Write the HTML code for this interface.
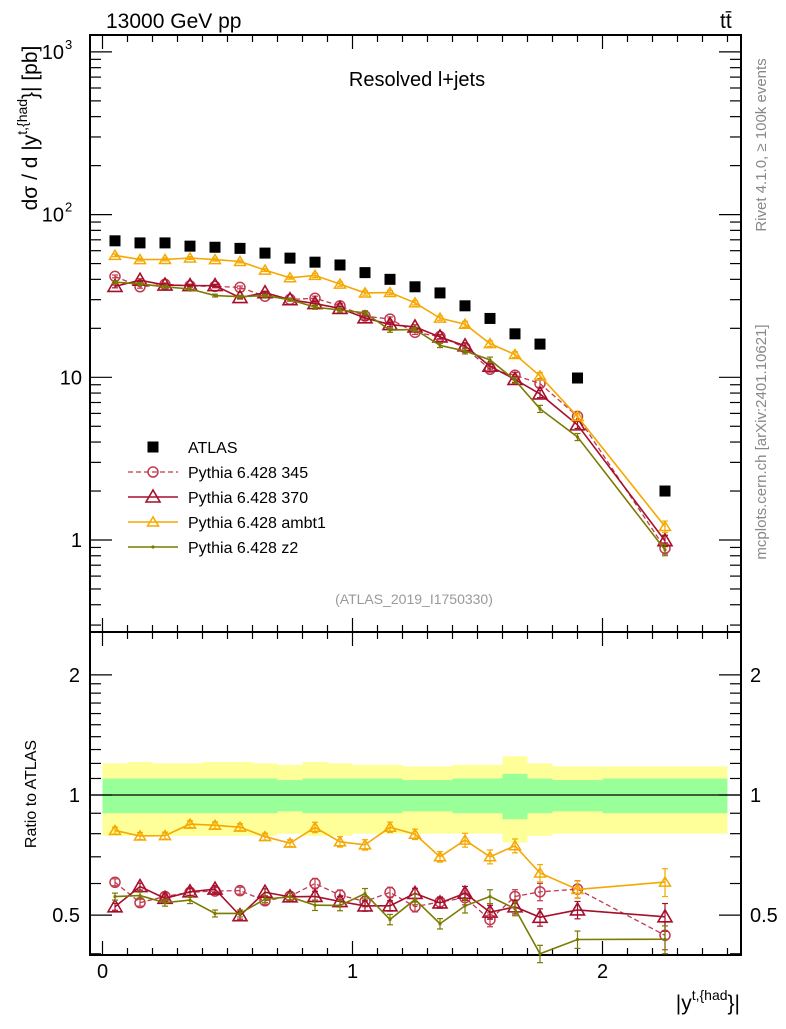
<!DOCTYPE html>
<html><head><meta charset="utf-8"><style>
body{margin:0;background:#fff;}
svg text{font-family:"Liberation Sans",sans-serif;}
</style></head><body>
<svg id="chart" width="786" height="1024" xmlns="http://www.w3.org/2000/svg">
<text x="106" y="28" font-size="21">13000 GeV pp</text>
<text x="720" y="28" font-size="21">tt̄</text>
<text x="417" y="86" font-size="20" text-anchor="middle">Resolved l+jets</text>
<text x="414" y="604" font-size="14" fill="#999" text-anchor="middle">(ATLAS_2019_I1750330)</text>
<text transform="translate(766,145) rotate(-90)" font-size="15" fill="#888" text-anchor="middle">Rivet 4.1.0, ≥ 100k events</text>
<text transform="translate(766,442) rotate(-90)" font-size="15" fill="#888" text-anchor="middle">mcplots.cern.ch [arXiv:2401.10621]</text>
<text transform="translate(37,128) rotate(-90)" font-size="21" text-anchor="middle">dσ / d |y<tspan dy="-10" font-size="14">t,{had</tspan><tspan dy="10">}| [pb]</tspan></text>
<text transform="translate(36,794) rotate(-90)" font-size="16" text-anchor="middle">Ratio to ATLAS</text>
<text x="740" y="1010" font-size="21" text-anchor="end">|y<tspan dy="-10" font-size="14">t,{had</tspan><tspan dy="10">}|</tspan></text>
<g id="g"></g>
</svg>
<script>
const xc=[0.05,0.15,0.25,0.35,0.45,0.55,0.65,0.75,0.85,0.95,1.05,1.15,1.25,1.35,1.45,1.55,1.65,1.75,1.9,2.25];
const xlo=[0,0.1,0.2,0.3,0.4,0.5,0.6,0.7,0.8,0.9,1.0,1.1,1.2,1.3,1.4,1.5,1.6,1.7,1.8,2.0];
const xhi=[0.1,0.2,0.3,0.4,0.5,0.6,0.7,0.8,0.9,1.0,1.1,1.2,1.3,1.4,1.5,1.6,1.7,1.8,2.0,2.5];
const atlas=[69,67,67,64,63,62,58,54,51,49,44,40,36,33,27.5,23,18.5,16,9.9,2.0];
const totUp=[0.2,0.21,0.2,0.2,0.21,0.21,0.2,0.19,0.21,0.2,0.19,0.19,0.18,0.18,0.19,0.19,0.25,0.2,0.18,0.18];
const totDn=[0.21,0.21,0.21,0.21,0.21,0.21,0.21,0.2,0.21,0.21,0.2,0.2,0.2,0.2,0.2,0.2,0.24,0.21,0.2,0.2];
const statE=[0.1,0.1,0.1,0.1,0.1,0.1,0.1,0.09,0.1,0.1,0.1,0.1,0.09,0.09,0.1,0.1,0.13,0.1,0.09,0.1];
const p345=[41.7,36.0,37.3,36.5,36.2,35.7,31.5,30.1,30.6,27.5,23.8,22.8,18.9,17.8,15.2,11.2,10.3,9.15,5.75,0.89];
const p370=[36.2,39.5,36.9,36.6,36.6,30.9,33.1,30.0,28.4,26.5,23.2,21.1,20.4,17.7,15.6,11.7,9.7,7.9,5.1,0.99];
const pambt1=[56.2,52.9,53.0,54.1,52.9,51.5,45.6,40.9,42.3,37.4,33.0,33.2,28.7,23.1,21.2,16.1,13.8,10.2,5.74,1.21];
const pz2=[38.4,37.5,36.0,34.9,31.8,31.3,31.8,30.0,27.0,25.9,24.9,19.5,19.7,15.7,14.5,12.8,9.6,6.4,4.3,0.87];
const relErr=[0.02,0.02,0.02,0.02,0.02,0.02,0.02,0.02,0.03,0.03,0.03,0.03,0.03,0.03,0.04,0.04,0.04,0.05,0.05,0.08];

const L=90,R=741,T=35,MB=632,RB=955;
const X=v=>L+(v+0.05)*250;
const Y=v=>540-162.7*Math.log10(v);
const YR=v=>795-399*Math.log10(v);
const NS="http://www.w3.org/2000/svg";
const g=document.getElementById('g');
function el(tag,at,parent){const e=document.createElementNS(NS,tag);for(const k in at)e.setAttribute(k,at[k]);(parent||g).appendChild(e);return e;}
function txt(x,y,s,sz,anc,parent){const t=el('text',{x:x,y:y,'font-size':sz,'text-anchor':anc||'start'},parent);t.textContent=s;return t;}

const bands=el('g',{});


for(let i=0;i<xc.length;i++){
  const y1=YR(1+totUp[i]),y2=YR(1-totDn[i]);
  const b=el('rect',{x:X(xlo[i]),y:y1,width:X(xhi[i])-X(xlo[i]),height:y2-y1,fill:'#ffff99'},bands);
  
  
  const s1=YR(1+statE[i]),s2=YR(1-statE[i]);
  const s=el('rect',{x:X(xlo[i]),y:s1,width:X(xhi[i])-X(xlo[i]),height:s2-s1,fill:'#99ff99'},bands);
  
  
}
const one=el('line',{x1:L,x2:R,y1:YR(1),y2:YR(1),stroke:'#000','stroke-width':1.2});



const f1=el('rect',{x:L,y:T,width:R-L,height:MB-T,fill:'none',stroke:'#000','stroke-width':2});


const f2=el('rect',{x:L,y:MB,width:R-L,height:RB-MB,fill:'none',stroke:'#000','stroke-width':2});



for(let v=0;v<=2.5001;v+=0.1){
  const major=Math.abs(v-Math.round(v))<1e-6;const len=major?14:7;const x=X(v);
  for(const [a,b] of [[T,MB],[MB,RB]]){
    el('line',{x1:x,x2:x,y1:b,y2:b-len,stroke:'#000','stroke-width':1.2});
    el('line',{x1:x,x2:x,y1:a,y2:a+len,stroke:'#000','stroke-width':1.2});
  }
}
const xTickLabels=['0','1','2'];
xTickLabels.forEach((s,i)=>{const t=txt(X(i),978,s,20,'middle');});

for(let d=-1;d<=3;d++)for(let m=1;m<10;m++){
  const v=m*Math.pow(10,d);const y=Y(v);if(y<T||y>MB)continue;
  const len=m==1?22:11;
  el('line',{x1:L,x2:L+len,y1:y,y2:y,stroke:'#000','stroke-width':1.2});
  el('line',{x1:R,x2:R-len,y1:y,y2:y,stroke:'#000','stroke-width':1.2});
}
const yl=[[1,'1'],[10,'10'],[100,'10'],[1000,'10']];
yl.forEach(([v,s],i)=>{const t=txt(i>=2?64:82,Y(v)+7,s,20,'end');
  if(i>=2){txt(65,Y(v)-3,i==2?'2':'3',13);}});
for(const v of [0.4,0.5,0.6,0.7,0.8,0.9,1,1.1,1.2,1.3,1.4,1.5,1.6,1.7,1.8,1.9,2]){
  const len=(v==0.5||v==1||v==2)?22:11;const y=YR(v);
  el('line',{x1:L,x2:L+len,y1:y,y2:y,stroke:'#000','stroke-width':1.2});
  el('line',{x1:R,x2:R-len,y1:y,y2:y,stroke:'#000','stroke-width':1.2});
}
for(const [v,s] of [[2,'2'],[1,'1'],[0.5,'0.5']]){
  const a=txt(80,YR(v)+7,s,20,'end');
  const b=txt(750,YR(v)+7,s,20);
}

function marker(type,x,y,c,parent){
  if(type=='circle')el('circle',{cx:x,cy:y,r:5,fill:'none',stroke:c,'stroke-width':1.5},parent);
  else if(type=='tri')el('polygon',{points:`${x},${y-7} ${x-7},${y+5} ${x+7},${y+5}`,fill:'none',stroke:c,'stroke-width':1.6},parent);
  else if(type=='tris')el('polygon',{points:`${x},${y-5} ${x-5.5},${y+4} ${x+5.5},${y+4}`,fill:'none',stroke:c,'stroke-width':1.5},parent);
  else if(type=='dot')el('circle',{cx:x,cy:y,r:1.6,fill:c},parent);
  else if(type=='sq')el('rect',{x:x-5.5,y:y-5.5,width:11,height:11,fill:c},parent);
}
const series=[
 {name:'pythia-345',data:p345,c:'#c0394f',m:'circle',dash:'5,3',w:1.3},
 {name:'pythia-370',data:p370,c:'#a50f2b',m:'tri',dash:'',w:1.6},
 {name:'pythia-ambt1',data:pambt1,c:'#f5a800',m:'tris',dash:'',w:1.6},
 {name:'pythia-z2',data:pz2,c:'#7a7a00',m:'dot',dash:'',w:1.6},
];
series.forEach(s=>{
  for(const panel of ['main','ratio']){
    const grp=el('g',{});
    
    
    const fy=panel=='main'?(i=>Y(s.data[i])):(i=>YR(s.data[i]/atlas[i]));
    const pts=xc.map((x,i)=>X(x)+','+fy(i)).join(' ');
    el('polyline',{points:pts,fill:'none',stroke:s.c,'stroke-width':s.w,'stroke-dasharray':s.dash},grp);
    xc.forEach((x,i)=>{
      const v=panel=='main'?s.data[i]:s.data[i]/atlas[i];
      const f=panel=='main'?Y:YR;
      const y1=f(v*(1+relErr[i])),y2=f(v*(1-relErr[i]));
      el('line',{x1:X(x),x2:X(x),y1:y1,y2:y2,stroke:s.c,'stroke-width':1.2},grp);
      el('line',{x1:X(x)-3,x2:X(x)+3,y1:y1,y2:y1,stroke:s.c,'stroke-width':1.2},grp);
      el('line',{x1:X(x)-3,x2:X(x)+3,y1:y2,y2:y2,stroke:s.c,'stroke-width':1.2},grp);
      marker(s.m,X(x),fy(i),s.c,grp);
    });
  }
});
const ag=el('g',{});


xc.forEach((x,i)=>marker('sq',X(x),Y(atlas[i]),'#000',ag));

const legendLabels=['ATLAS','Pythia 6.428 345','Pythia 6.428 370','Pythia 6.428 ambt1','Pythia 6.428 z2'];
const lg=el('g',{});


legendLabels.forEach((s,i)=>{
  const y=447+i*25;
  const e=el('g',{},lg);
  
  
  if(i==0)marker('sq',153,y,'#000',e);
  else{const sr=series[i-1];el('line',{x1:128,x2:178,y1:y,y2:y,stroke:sr.c,'stroke-width':sr.w,'stroke-dasharray':sr.dash},e);marker(sr.m,153,y,sr.c,e);}
  txt(188,y+6,s,16,'start',e);
});
</script>
</body></html>
